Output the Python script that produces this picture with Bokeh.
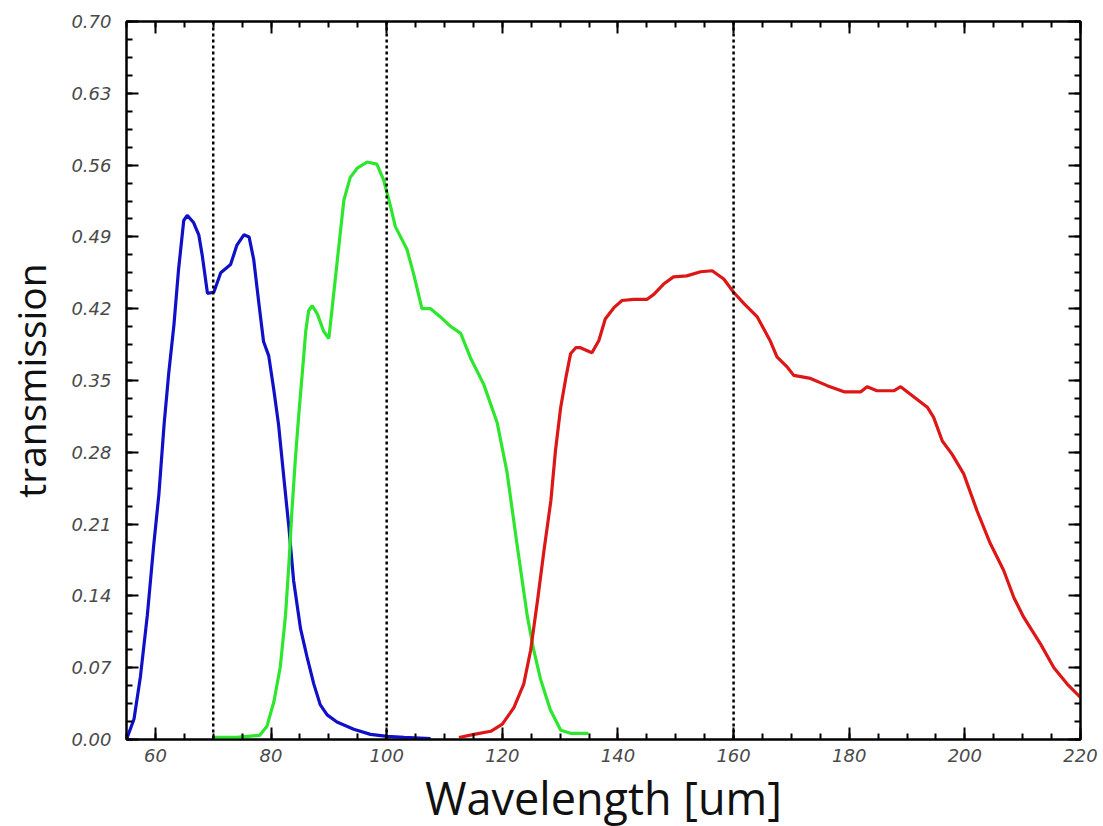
from bokeh.plotting import figure
from bokeh.models import (ColumnDataSource, FixedTicker, PrintfTickFormatter, Span,
                          LinearAxis, Range1d, CustomJSTickFormatter)
from bokeh.embed import file_html
from bokeh.resources import INLINE

# ---------------- data ----------------
blue_x = [55.0, 56.3, 57.4, 58.6, 59.7, 60.6, 61.5, 62.3, 63.2, 64.0, 64.9, 65.5, 66.6, 67.5,
          68.1, 69.0, 70.1, 71.3, 73.0, 74.1, 75.3, 76.2, 77.0, 77.9, 78.7, 79.6, 80.5, 81.3,
          82.2, 83.1, 83.9, 85.1, 86.2, 87.4, 88.5, 89.7, 91.4, 94.3, 97.2, 100.1, 103.0, 107.6]
blue_y = [0.000, 0.020, 0.061, 0.121, 0.189, 0.239, 0.307, 0.357, 0.404, 0.458, 0.506, 0.511,
          0.504, 0.492, 0.472, 0.435, 0.436, 0.455, 0.463, 0.482, 0.492, 0.490, 0.468, 0.425,
          0.388, 0.374, 0.340, 0.307, 0.256, 0.206, 0.155, 0.108, 0.081, 0.054, 0.034, 0.024,
          0.017, 0.010, 0.005, 0.003, 0.002, 0.001]

green_x = [70.0, 74.0, 78.0, 79.3, 80.5, 81.6, 82.5, 83.1, 83.6, 84.2, 84.8, 85.4, 86.0, 86.5,
           87.1, 88.0, 89.1, 90.0, 91.4, 92.6, 93.7, 94.9, 96.6, 98.3, 99.5, 100.7, 101.5,
           103.5, 104.7, 106.1, 107.6, 109.3, 111.0, 112.8, 114.5, 116.8, 119.1, 120.8, 122.6,
           124.3, 125.4, 126.6, 128.3, 130.1, 131.8, 134.9]
green_y = [0.002, 0.002, 0.004, 0.013, 0.037, 0.071, 0.121, 0.172, 0.222, 0.273, 0.317, 0.357,
           0.398, 0.418, 0.423, 0.415, 0.398, 0.391, 0.464, 0.526, 0.548, 0.557, 0.563, 0.561,
           0.545, 0.519, 0.500, 0.478, 0.453, 0.420, 0.420, 0.412, 0.403, 0.396, 0.372, 0.346,
           0.309, 0.261, 0.188, 0.121, 0.088, 0.059, 0.029, 0.009, 0.006, 0.006]

red_x = [112.5, 115.1, 118.0, 120.0, 122.0, 123.7, 124.9, 126.1, 127.2, 128.4, 129.2, 130.1,
         131.0, 131.8, 132.7, 133.5, 134.7, 135.5, 136.7, 137.8, 139.3, 140.7, 142.7, 145.0,
         146.2, 147.9, 149.6, 151.9, 154.3, 156.3, 158.3, 160.0, 161.8, 164.1, 166.3, 167.5,
         169.3, 170.4, 173.3, 176.2, 179.1, 182.0, 183.1, 184.8, 187.7, 188.9, 191.2, 193.5,
         194.6, 196.1, 197.8, 199.8, 202.1, 204.4, 206.7, 208.5, 210.2, 213.1, 215.4, 217.7,
         220.0]
red_y = [0.002, 0.005, 0.008, 0.015, 0.031, 0.054, 0.087, 0.136, 0.184, 0.233, 0.282, 0.324,
         0.353, 0.376, 0.382, 0.382, 0.379, 0.377, 0.389, 0.410, 0.421, 0.428, 0.429, 0.429,
         0.434, 0.444, 0.451, 0.452, 0.456, 0.457, 0.449, 0.436, 0.425, 0.412, 0.389, 0.373,
         0.363, 0.355, 0.352, 0.345, 0.339, 0.339, 0.344, 0.340, 0.340, 0.344, 0.334, 0.324,
         0.314, 0.291, 0.278, 0.259, 0.223, 0.191, 0.165, 0.138, 0.119, 0.093, 0.070, 0.054,
         0.041]

band_edges = [70, 100, 160]

x_major = [60, 80, 100, 120, 140, 160, 180, 200, 220]
x_minor = [55 + 5 * i for i in range(34)]
y_major = [0.0, 0.07, 0.14, 0.21, 0.28, 0.35, 0.42, 0.49, 0.56, 0.63, 0.70]
y_minor = [round(0.0175 * i, 4) for i in range(41)]

# ---------------- figure ----------------
p = figure(width=1103, height=826, output_backend="svg", toolbar_location=None,
           x_range=Range1d(55, 220), y_range=Range1d(0, 0.70),
           x_axis_label="Wavelength [um]", y_axis_label="transmission")
p.frame_width = 954
p.frame_height = 718
p.min_border_left = 126
p.min_border_right = 23
p.min_border_top = 21
p.min_border_bottom = 87
p.background_fill_color = "white"
p.border_fill_color = "white"
p.outline_line_color = "black"
p.outline_line_width = 2
p.xgrid.visible = False
p.ygrid.visible = False

for e in band_edges:
    p.add_layout(Span(location=e, dimension="height", line_color="black",
                      line_width=2.5, line_dash="3 3"))

p.line(x="x", y="y", source=ColumnDataSource(dict(x=blue_x, y=blue_y)),
       line_color="#1010c8", line_width=3.2)
p.line(x="x", y="y", source=ColumnDataSource(dict(x=green_x, y=green_y)),
       line_color="#2ee62e", line_width=3.2)
p.line(x="x", y="y", source=ColumnDataSource(dict(x=red_x, y=red_y)),
       line_color="#dd1616", line_width=3.2)

def style_axis(ax, ticks, minor, fmt):
    ax.ticker = FixedTicker(ticks=ticks, minor_ticks=minor)
    ax.formatter = fmt
    ax.axis_line_color = "black"
    ax.axis_line_width = 2
    ax.major_tick_in = 12
    ax.major_tick_out = 0
    ax.minor_tick_in = 6
    ax.minor_tick_out = 0
    ax.major_tick_line_color = "black"
    ax.major_tick_line_width = 2
    ax.minor_tick_line_color = "black"
    ax.minor_tick_line_width = 2
    ax.major_label_text_font = "DejaVu Sans"
    ax.major_label_text_font_style = "italic"
    ax.major_label_text_font_size = "18px"
    ax.major_label_text_color = "#4a4a4a"

xa = p.xaxis[0]
ya = p.yaxis[0]
style_axis(xa, x_major, x_minor, PrintfTickFormatter(format="%d"))
style_axis(ya, y_major, y_minor, PrintfTickFormatter(format="%.2f"))
xa.major_label_standoff = 9
ya.major_label_standoff = 15
xa.axis_label_text_font = "Open Sans"
xa.axis_label_text_font_style = "normal"
xa.axis_label_text_font_size = "45px"
xa.axis_label_text_color = "#111111"
xa.axis_label_standoff = 2
ya.axis_label_text_font = "Open Sans"
ya.axis_label_text_font_style = "normal"
ya.axis_label_text_font_size = "39px"
ya.axis_label_text_color = "#111111"
ya.axis_label_standoff = 11

blank = CustomJSTickFormatter(code="return ''")
top = LinearAxis()
right = LinearAxis()
style_axis(top, x_major, x_minor, blank)
style_axis(right, y_major, y_minor, blank)
top.major_label_standoff = 0
right.major_label_standoff = 0
p.add_layout(top, "above")
p.add_layout(right, "right")

open("out.html", "w").write(file_html(p, INLINE))
